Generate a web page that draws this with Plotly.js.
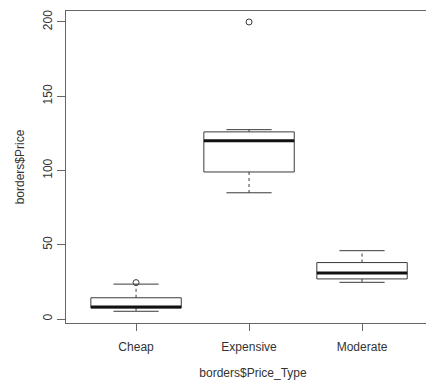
<!DOCTYPE html>
<html>
<head>
<meta charset="utf-8">
<script src="https://cdn.plot.ly/plotly-3.0.1.min.js"></script>
<style>html,body{margin:0;padding:0;background:#fff;overflow:hidden;}#wrap{width:426px;height:384px;overflow:hidden;}#chart{width:440px;height:384px;}</style>
</head>
<body>
<div id="wrap"><div id="chart"></div></div>
<script>
const categories = ['Cheap', 'Expensive', 'Moderate'];
const lowerWhisker = [5.2, 85, 24.7];
const q1 = [7.5, 99, 27];
const median = [8, 120, 31];
const q3 = [14.3, 126, 38];
const upperWhisker = [23.5, 127.5, 46];
const outliers = [[24.5], [200], []];
const yTicks = [0, 50, 100, 150, 200];

const boxHalf = 0.4, capHalf = 0.2;
const boxX = [], boxY = [], medX = [], medY = [], whX = [], whY = [], capX = [], capY = [], outX = [], outY = [];
categories.forEach((c, i) => {
  boxX.push(i - boxHalf, i + boxHalf, i + boxHalf, i - boxHalf, i - boxHalf, null);
  boxY.push(q1[i], q1[i], q3[i], q3[i], q1[i], null);
  medX.push(i - boxHalf, i + boxHalf, null);
  medY.push(median[i], median[i], null);
  whX.push(i, i, null, i, i, null);
  whY.push(q3[i], upperWhisker[i], null, q1[i], lowerWhisker[i], null);
  capX.push(i - capHalf, i + capHalf, null, i - capHalf, i + capHalf, null);
  capY.push(upperWhisker[i], upperWhisker[i], null, lowerWhisker[i], lowerWhisker[i], null);
  outliers[i].forEach(v => { outX.push(i); outY.push(v); });
});

const lineCol = '#3a3a3a';
const traces = [
  {x: whX, y: whY, mode: 'lines', line: {color: lineCol, width: 1, dash: '3px,3px'}, hoverinfo: 'skip'},
  {x: capX, y: capY, mode: 'lines', line: {color: lineCol, width: 1}, hoverinfo: 'skip'},
  {x: boxX, y: boxY, mode: 'lines', line: {color: lineCol, width: 1}, hoverinfo: 'skip'},
  {x: medX, y: medY, mode: 'lines', line: {color: '#111', width: 3}, hoverinfo: 'skip'},
  {x: outX, y: outY, mode: 'markers', marker: {symbol: 'circle-open', size: 6, color: lineCol, line: {width: 1, color: lineCol}}, hoverinfo: 'skip'}
];

const font = {family: 'Liberation Sans, Arial, sans-serif', size: 12, color: '#333'};
const layout = {
  width: 440, height: 384,
  margin: {l: 66, r: 0, t: 11, b: 61},
  paper_bgcolor: '#fff', plot_bgcolor: '#fff',
  showlegend: false,
  font: font,
  xaxis: {
    range: [-0.62, 2.69],
    tickmode: 'array', tickvals: categories.map((c, i) => i), ticktext: categories,
    showgrid: false, zeroline: false,
    showline: true, mirror: true, linecolor: '#666', linewidth: 1,
    ticks: 'outside', ticklen: 7, tickcolor: '#666', tickwidth: 1,
    ticklabelstandoff: 6,
    tickfont: font,
    title: {text: 'borders$Price_Type', font: font, standoff: 15}
  },
  yaxis: {
    range: [-2.69, 207.4],
    tickmode: 'array', tickvals: yTicks, ticktext: yTicks.map(String),
    tickangle: -90,
    showgrid: false, zeroline: false,
    showline: true, linecolor: '#666', linewidth: 1,
    ticks: 'outside', ticklen: 8, tickcolor: '#666', tickwidth: 1,
    tickfont: font,
    title: {text: 'borders$Price', font: font, standoff: 14}
  }
};

Plotly.newPlot('chart', traces, layout, {displayModeBar: false, staticPlot: true});
</script>
</body>
</html>
